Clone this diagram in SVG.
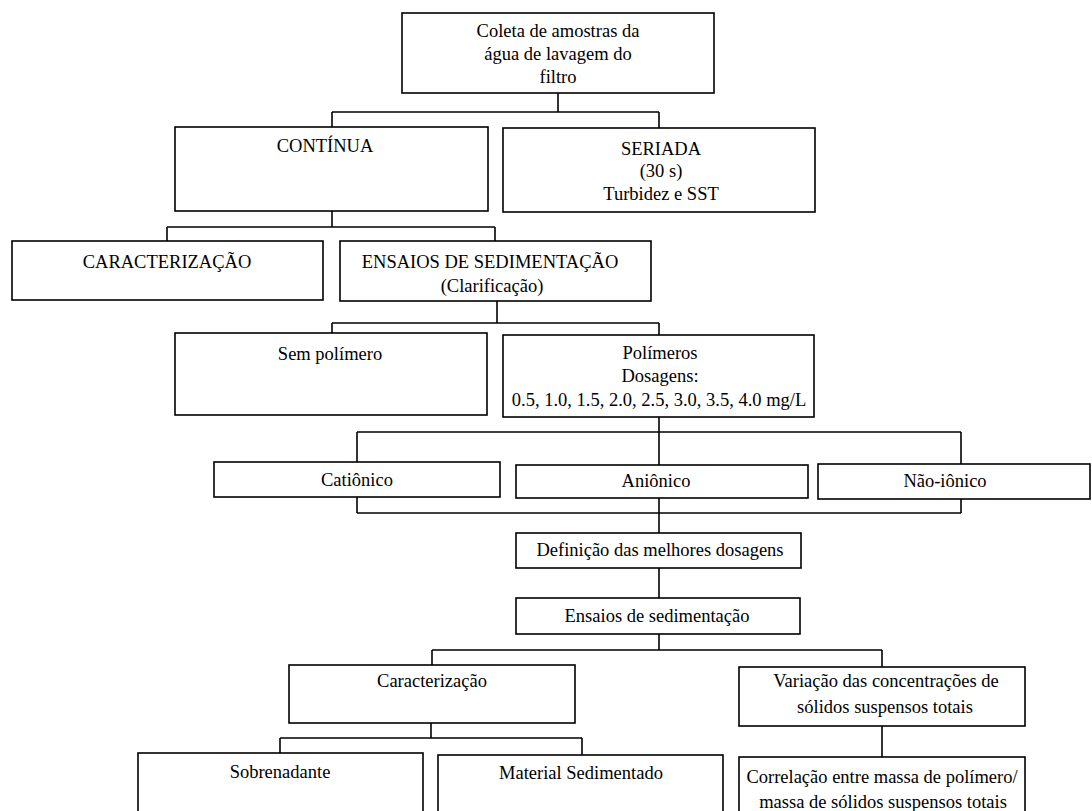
<svg xmlns="http://www.w3.org/2000/svg" width="1092" height="811" viewBox="0 0 1092 811">
<style>
.b{fill:#fff;stroke:#000;stroke-width:1.6}
.c line{stroke:#000;stroke-width:1.6}
text{font-family:"Liberation Serif","Times New Roman",serif;font-size:18.5px;fill:#000;text-anchor:middle}
</style>
<rect width="1092" height="811" fill="#fff"/>
<g id="connectors" class="c">
<line x1="558" y1="93" x2="558" y2="112"/>
<line x1="332" y1="112" x2="659" y2="112"/>
<line x1="332" y1="112" x2="332" y2="127"/>
<line x1="659" y1="112" x2="659" y2="128"/>
<line x1="332" y1="211" x2="332" y2="227"/>
<line x1="167" y1="227" x2="495" y2="227"/>
<line x1="167" y1="227" x2="167" y2="241"/>
<line x1="495" y1="227" x2="495" y2="241"/>
<line x1="497" y1="301" x2="497" y2="323"/>
<line x1="332" y1="323" x2="659" y2="323"/>
<line x1="332" y1="323" x2="332" y2="333"/>
<line x1="659" y1="323" x2="659" y2="335"/>
<line x1="659" y1="417" x2="659" y2="465"/>
<line x1="357" y1="432" x2="961" y2="432"/>
<line x1="357" y1="432" x2="357" y2="462"/>
<line x1="961" y1="432" x2="961" y2="464"/>
<line x1="357" y1="497" x2="357" y2="513"/>
<line x1="961" y1="499" x2="961" y2="513"/>
<line x1="357" y1="513" x2="961" y2="513"/>
<line x1="659" y1="498" x2="659" y2="533"/>
<line x1="659" y1="568" x2="659" y2="598"/>
<line x1="659" y1="634" x2="659" y2="650"/>
<line x1="432" y1="650" x2="882" y2="650"/>
<line x1="432" y1="650" x2="432" y2="665"/>
<line x1="882" y1="650" x2="882" y2="667"/>
<line x1="431" y1="723" x2="431" y2="738"/>
<line x1="280" y1="738" x2="582" y2="738"/>
<line x1="280" y1="738" x2="280" y2="753"/>
<line x1="582" y1="738" x2="582" y2="755"/>
<line x1="882" y1="726" x2="882" y2="757"/>
</g>
<g id="n-coleta"><rect class="b" x="402" y="13" width="312" height="80"/>
<text x="558" y="37">Coleta de amostras da</text><text x="558" y="60">água de lavagem do</text><text x="558" y="83">filtro</text></g>
<g id="n-continua"><rect class="b" x="175" y="127" width="313" height="84"/><text x="325" y="152">CONTÍNUA</text></g>
<g id="n-seriada"><rect class="b" x="503" y="128" width="312" height="84"/>
<text x="661" y="155">SERIADA</text><text x="661" y="177">(30 s)</text><text x="661" y="200">Turbidez e SST</text></g>
<g id="n-caract1"><rect class="b" x="12" y="241" width="311" height="59"/><text x="167" y="268">CARACTERIZAÇÃO</text></g>
<g id="n-ensaios1"><rect class="b" x="340" y="241" width="311" height="60"/>
<text x="490" y="268">ENSAIOS DE SEDIMENTAÇÃO</text><text x="492" y="292">(Clarificação)</text></g>
<g id="n-sempol"><rect class="b" x="175" y="333" width="312" height="82"/><text x="330" y="360">Sem polímero</text></g>
<g id="n-polimeros"><rect class="b" x="503" y="335" width="311" height="82"/>
<text x="660" y="359">Polímeros</text><text x="660" y="382">Dosagens:</text><text x="659" y="406">0.5, 1.0, 1.5, 2.0, 2.5, 3.0, 3.5, 4.0 mg/L</text></g>
<g id="n-cationico"><rect class="b" x="214" y="462" width="286" height="35"/><text x="357" y="486">Catiônico</text></g>
<g id="n-anionico"><rect class="b" x="516" y="465" width="292" height="33"/><text x="656" y="487">Aniônico</text></g>
<g id="n-naoionico"><rect class="b" x="818" y="464" width="272" height="35"/><text x="945" y="487">Não-iônico</text></g>
<g id="n-definicao"><rect class="b" x="516" y="533" width="285" height="35"/><text x="660" y="556">Definição das melhores dosagens</text></g>
<g id="n-ensaios2"><rect class="b" x="516" y="598" width="284" height="36"/><text x="657" y="622">Ensaios de sedimentação</text></g>
<g id="n-caract2"><rect class="b" x="289" y="665" width="286" height="58"/><text x="432" y="687">Caracterização</text></g>
<g id="n-variacao"><rect class="b" x="739" y="667" width="286" height="59"/>
<text x="886" y="687">Variação das concentrações de</text><text x="885" y="713">sólidos suspensos totais</text></g>
<g id="n-sobrenadante"><rect class="b" x="138" y="753" width="285" height="70"/><text x="280" y="778">Sobrenadante</text></g>
<g id="n-material"><rect class="b" x="438" y="755" width="285" height="70"/><text x="581" y="779">Material Sedimentado</text></g>
<g id="n-correlacao"><rect class="b" x="739" y="757" width="286" height="70"/>
<text x="882" y="783">Correlação entre massa de polímero/</text><text x="883" y="808">massa de sólidos suspensos totais</text></g>
</svg>
